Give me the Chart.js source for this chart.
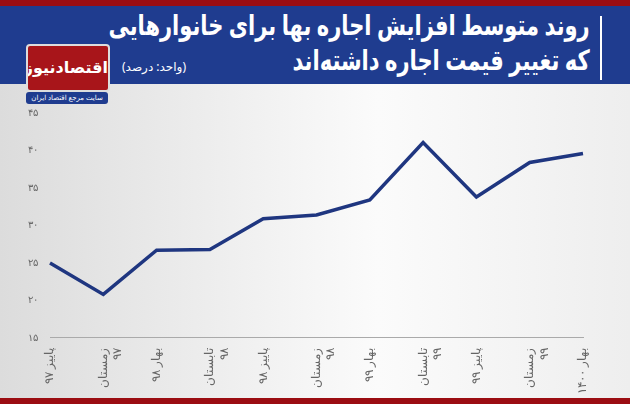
<!DOCTYPE html>
<html><head><meta charset="utf-8">
<script src="https://cdn.jsdelivr.net/npm/chart.js@4/dist/chart.umd.min.js"></script>
<style>
body{margin:0;width:630px;height:404px;overflow:hidden;font-family:"Noto Sans","DejaVu Sans",sans-serif;background:linear-gradient(90deg,#dcdcdc,#fbfbfb 60%,#eeeeee);position:relative}
#top{position:absolute;left:0;top:0;width:630px;height:6px;background:#9b0d12}
#hdr{position:absolute;left:0;top:6px;width:630px;height:78px;background:#1f3c8f}
#t1{position:absolute;right:40px;top:1px;color:#fff;font-size:28px;font-weight:bold;direction:rtl;line-height:35px;text-align:right;white-space:nowrap;transform:scaleX(0.75);transform-origin:right top}
#bar{position:absolute;right:28px;top:10px;width:2px;height:64px;background:#fff}
#unit{position:absolute;left:122px;top:52px;color:#fff;font-size:12px;direction:rtl}
#logo{position:absolute;left:26px;top:44px;width:80px;height:44px;background:#a8151a;border:2px solid #ddd;border-radius:4px;color:#fff;font-weight:bold;font-size:16px;text-align:center;line-height:42px;direction:rtl;white-space:nowrap;overflow:hidden}
#sub{position:absolute;left:26px;top:92px;width:82px;height:12px;background:#1f3c8f;border-radius:3px;color:#fff;font-size:7px;text-align:center;line-height:12px;direction:rtl}
#bot{position:absolute;left:0;bottom:0;width:630px;height:6px;background:#9b0d12}
#wrap{position:absolute;left:0;top:103px;width:630px;height:295px}
</style></head><body>
<div id="top"></div><div id="hdr"><div id="bar"></div><div id="t1">روند متوسط افزایش اجاره بها برای خانوارهایی<br>که تغییر قیمت اجاره داشته‌اند</div><div id="unit">(واحد: درصد)</div></div>
<div id="logo">اقتصادنیوز</div><div id="sub">سایت مرجع اقتصاد ایران</div>
<div id="wrap"><canvas id="c"></canvas></div>
<div id="bot"></div>
<script>
const categories=[["پاییز ۹۷"],["زمستان","۹۷"],["بهار ۹۸"],["تابستان","۹۸"],["پاییز ۹۸"],["زمستان","۹۸"],["بهار ۹۹"],["تابستان","۹۹"],["پاییز ۹۹"],["زمستان","۹۹"],["بهار ۱۴۰۰"]];
const values=[25.0,20.8,26.7,26.8,30.9,31.4,33.4,41.05,33.8,38.4,39.6];
const yTicks=[15,20,25,30,35,40,45];
const fa=n=>String(n).replace(/\d/g,d=>"۰۱۲۳۴۵۶۷۸۹"[d]);
new Chart(document.getElementById('c'),{type:'line',
data:{labels:categories,datasets:[{data:values,borderColor:'#1f3680',borderWidth:3.5,pointRadius:0,tension:0,borderJoinStyle:'miter'}]},
options:{responsive:true,maintainAspectRatio:false,animation:false,
layout:{padding:{left:14,right:47,top:4,bottom:2}},
plugins:{legend:{display:false},tooltip:{enabled:false}},
scales:{
x:{offset:false,grid:{display:false},border:{color:'#aaa'},ticks:{minRotation:90,maxRotation:90,color:'#666',font:{size:12,family:'Noto Sans'},padding:2}},
y:{min:15,max:45,grid:{display:false},border:{display:false},afterFit:a=>{a.width=36},afterBuildTicks:a=>{a.ticks=yTicks.map(v=>({value:v}))},ticks:{color:'#666',font:{size:10},callback:v=>fa(v),padding:4}}
}}});
</script></body></html>
